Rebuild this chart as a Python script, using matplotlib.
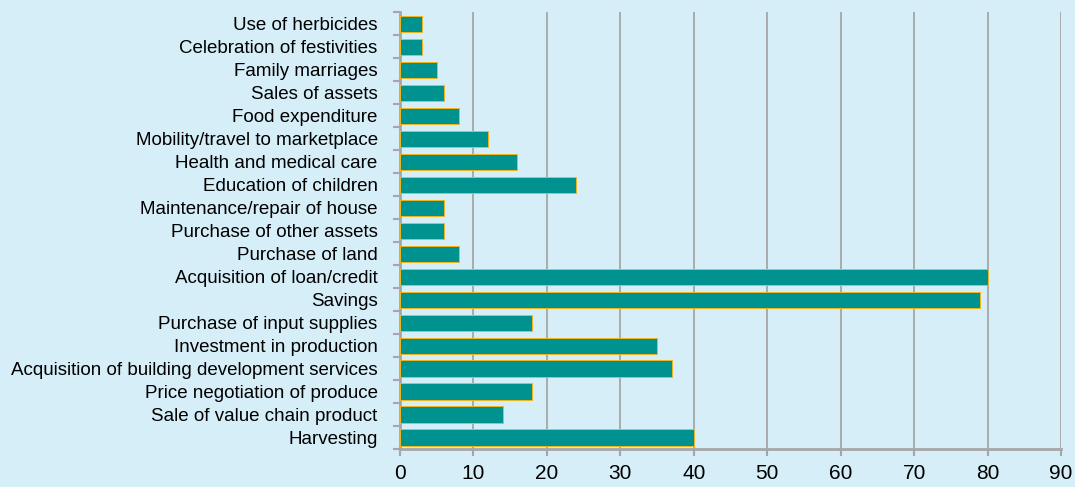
import matplotlib.pyplot as plt
import numpy as np

plt.rcParams['font.family'] = ['Liberation Sans', 'DejaVu Sans']

categories = [
    "Use of herbicides",
    "Celebration of festivities",
    "Family marriages",
    "Sales of assets",
    "Food expenditure",
    "Mobility/travel to marketplace",
    "Health and medical care",
    "Education of children",
    "Maintenance/repair of house",
    "Purchase of other assets",
    "Purchase of land",
    "Acquisition of loan/credit",
    "Savings",
    "Purchase of input supplies",
    "Investment in production",
    "Acquisition of building development services",
    "Price negotiation of produce",
    "Sale of value chain product",
    "Harvesting",
]
values = [3, 3, 5, 6, 8, 12, 16, 24, 6, 6, 8, 80, 79, 18, 35, 37, 18, 14, 40]
xticks = [0, 10, 20, 30, 40, 50, 60, 70, 80, 90]

bg = '#d6eef8'
fig = plt.figure(figsize=(10.75, 4.87), dpi=100, facecolor=bg)
ax = fig.add_axes([0.372, 0.078, 0.615, 0.897], facecolor=bg)

y = np.arange(len(categories))
ax.barh(y, values, height=0.7, color='#00928f', edgecolor='#f2b51c', linewidth=0.7, zorder=3)

ax.set_ylim(len(categories) - 0.5, -0.5)
ax.set_yticks(y)
ax.set_yticklabels(categories, fontsize=13.5)
ax.set_yticks(np.arange(len(categories) + 1) - 0.5, minor=True)
ax.tick_params(axis='y', which='major', length=0, pad=16)
ax.tick_params(axis='y', which='minor', length=5, width=1.5, color='#a6a6a6')

ax.set_xlim(0, 90)
ax.set_xticks(xticks)
ax.tick_params(axis='x', labelsize=15, length=5, width=1.5, color='#a6a6a6', pad=6)
ax.grid(axis='x', color='#a6a6a6', linewidth=1.3, zorder=0)

for s in ['top', 'right']:
    ax.spines[s].set_visible(False)
for s in ['left', 'bottom']:
    ax.spines[s].set_color('#a6a6a6')
    ax.spines[s].set_linewidth(2)

fig.savefig('out.png', dpi=100, facecolor=bg)
